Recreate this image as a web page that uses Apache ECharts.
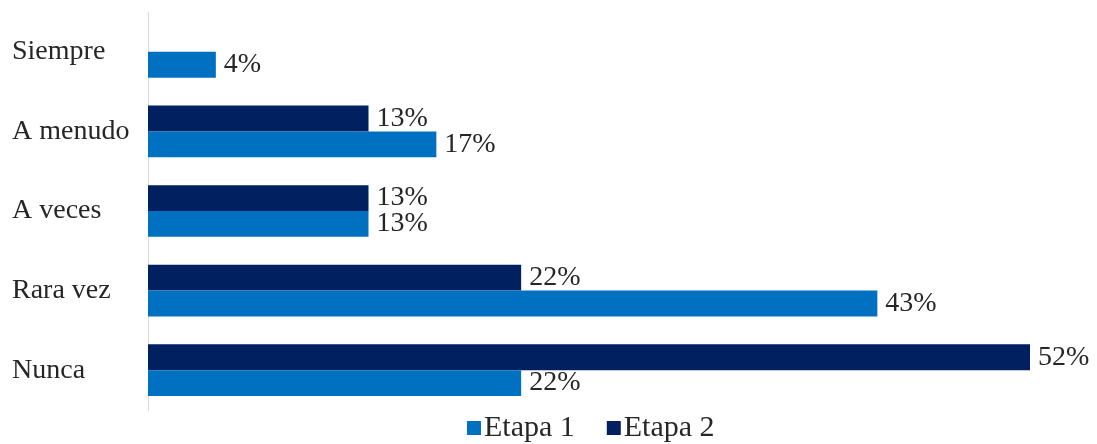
<!DOCTYPE html>
<html>
<head>
<meta charset="utf-8">
<script src="https://cdn.jsdelivr.net/npm/echarts@6/dist/echarts.min.js"></script>
<style>
  html, body { margin: 0; padding: 0; background: #fff; }
  #chart { width: 1097px; height: 444px; }
</style>
</head>
<body>
<div id="chart"></div>
<script>
// Frequency categories, bottom to top on the vertical axis
const categories = ['Nunca', 'Rara vez', 'A veces', 'A menudo', 'Siempre'];
// Percentages per stage (null = no response in that category)
const etapa1 = [22, 43, 13, 17, 4];
const etapa2 = [52, 22, 13, 13, null];
const seriesNames = ['Etapa 1', 'Etapa 2'];

const serif = '"Liberation Serif", "DejaVu Serif", serif';
const textColor = '#262626';
const fontSize = 28;

const labelStyle = {
  show: true,
  position: 'right',
  distance: 8,
  formatter: p => p.value == null ? '' : p.value + '%',
  fontFamily: serif,
  fontSize: fontSize,
  color: textColor
};

const chart = echarts.init(document.getElementById('chart'));
chart.setOption({
  animation: false,
  grid: { left: 148, right: 67, top: 12, bottom: 34 },
  xAxis: {
    type: 'value',
    min: 0,
    max: 52,
    show: false
  },
  yAxis: {
    type: 'category',
    data: categories,
    axisLine: { show: true, lineStyle: { color: '#D9D9D9', width: 1 } },
    axisTick: { show: false },
    axisLabel: {
      align: 'left',
      margin: 136,
      fontFamily: serif,
      fontSize: fontSize,
      color: textColor
    }
  },
  legend: {
    left: 467,
    bottom: 1,
    padding: 0,
    itemWidth: 14,
    itemHeight: 14,
    itemGap: 32,
    icon: 'rect',
    textStyle: { fontFamily: serif, fontSize: 30, color: textColor, padding: [0, 0, 0, -2] },
    data: seriesNames
  },
  // Etapa 2 is listed first so its bar sits above Etapa 1 within each category
  series: [
    {
      name: seriesNames[1],
      type: 'bar',
      data: etapa2,
      barGap: '0%',
      barCategoryGap: '35%',
      itemStyle: { color: '#002060' },
      label: labelStyle
    },
    {
      name: seriesNames[0],
      type: 'bar',
      data: etapa1,
      barGap: '0%',
      barCategoryGap: '35%',
      itemStyle: { color: '#0070C0' },
      label: labelStyle
    }
  ]
});
</script>
</body>
</html>
